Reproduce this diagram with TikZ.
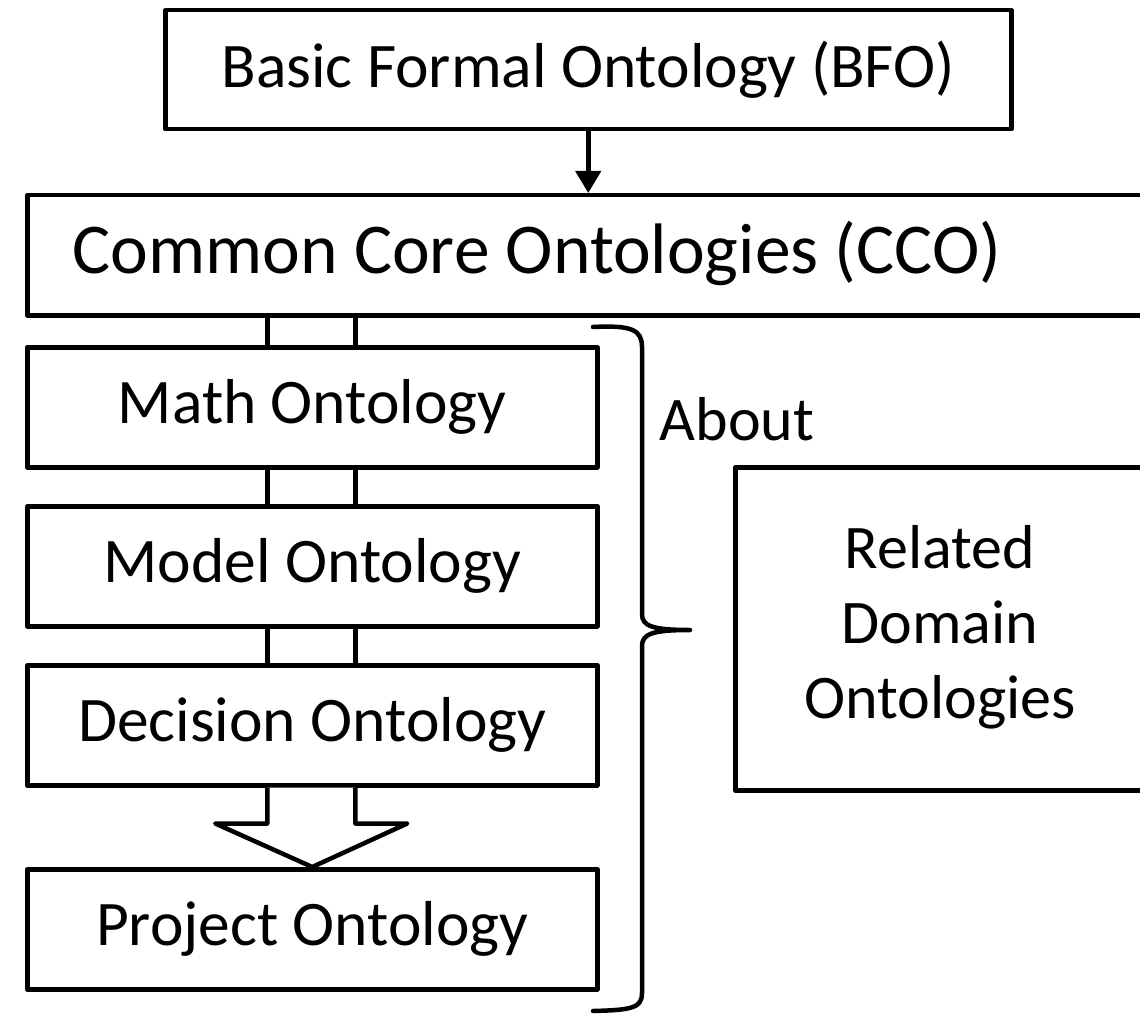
\documentclass[tikz,border=0pt]{standalone}
\usepackage{fontspec}
\setmainfont{Carlito}
\usetikzlibrary{calc,arrows.meta}
\begin{document}
\begin{tikzpicture}[x=1pt,y=-1pt,line width=4.5pt,line join=round,
  box/.style={draw,line width=4.5pt,inner sep=0pt,anchor=north west,
    font=\fontsize{63.5}{76}\selectfont,align=center},
  stackbox/.style={box,minimum width=570pt,minimum height=120pt},
  lbl/.style={font=\fontsize{62}{75}\selectfont,align=center,inner sep=0pt}]
\useasboundingbox (0,0) rectangle (1140,1016);
\clip (0,0) rectangle (1140,1016);

% upper ontology and the core layer
\node[box,minimum width=846pt,minimum height=119pt] (bfo) at (163,8)
  {Basic Formal Ontology (BFO)};
\node[box,minimum width=1200pt,minimum height=120pt] (cco) at (25,193) {};
\node[lbl,font=\fontsize{71.5}{86}\selectfont] (ccolabel) at (537,253)
  {Common Core Ontologies (CCO)};
\draw[-{Triangle[length=22pt,width=25pt]}] (bfo.south) -- (bfo.south |- cco.north);

% stack of mid-level ontologies
\node[stackbox] (math) at (25,345) {Math Ontology};
\node[stackbox] (model) at (25,504) {Model Ontology};
\node[stackbox] (decision) at (25,663) {Decision Ontology};
\node[stackbox] (project) at (25,867) {Project Ontology};

% double-line links between the stacked layers
\foreach \lower/\upper in {math/cco,model/math,decision/model}{
  \draw ([xshift=-45pt]\lower.north) -- ([xshift=-45pt]\lower.north |- \upper.south);
  \draw ([xshift=43pt]\lower.north) -- ([xshift=43pt]\lower.north |- \upper.south);
}

% block arrow from the decision layer down to the project layer
\draw[fill=white]
  ([xshift=-45pt]decision.south) -- ++(0,36) -- ++(-52,0)
  -- (project.north)
  -- ($([xshift=43pt]decision.south)+(52,36)$) -- ++(-52,0)
  -- ([xshift=43pt]decision.south);

% brace grouping the stack
\draw[line cap=round]
  (593,327) .. controls (632,325) and (642,330) .. (642,347)
  -- (642,614) .. controls (642,626) and (652,630) .. (690,630)
  (690,630) .. controls (652,630) and (642,634) .. (642,646)
  -- (642,993) .. controls (642,1008) and (632,1010) .. (593,1011);
\node[lbl,anchor=base] (about) at (737,440) {About};

% related domain ontologies
\node[box,minimum width=600pt,minimum height=323pt] (related) at (733,465) {};
\node[lbl] (relatedlabel) at (940,627) {Related\\Domain\\Ontologies};
\end{tikzpicture}
\end{document}
